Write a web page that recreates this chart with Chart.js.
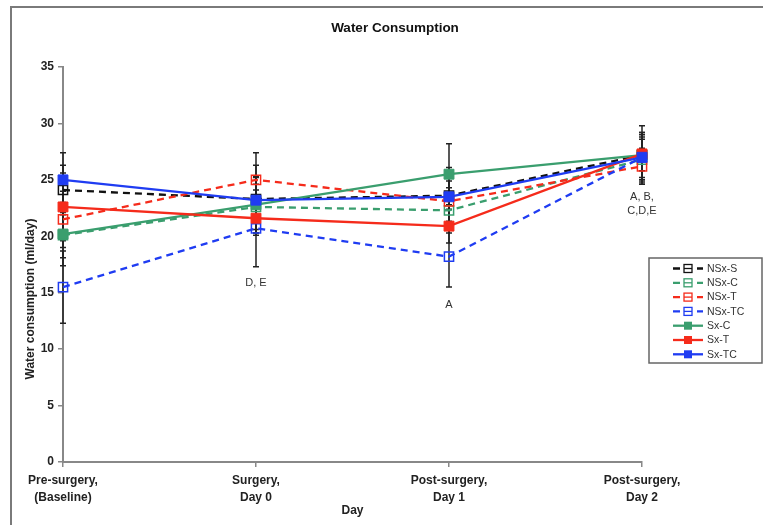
<!DOCTYPE html>
<html>
<head>
<meta charset="utf-8">
<script src="https://cdn.jsdelivr.net/npm/chart.js@4.4.1/dist/chart.umd.min.js"></script>
<style>
  html, body { margin: 0; padding: 0; background: #fff; }
  #wrap { width: 763px; height: 525px; position: relative; }
</style>
</head>
<body>
<div id="wrap"><canvas id="chart"></canvas></div>
<script>
// Categorías del eje X (días)
const days = [
    ['Pre-surgery,', '(Baseline)'],
    ['Surgery,', 'Day 0'],
    ['Post-surgery,', 'Day 1'],
    ['Post-surgery,', 'Day 2']
];

const seriesNames = ['NSx-S', 'NSx-C', 'NSx-T', 'NSx-TC', 'Sx-C', 'Sx-T', 'Sx-TC'];

// Medias (ml/day)
const nsxS  = [24.1, 23.3, 23.6, 27.2];
const nsxC  = [20.1, 22.6, 22.3, 26.8];
const nsxT  = [21.5, 25.0, 23.1, 26.2];
const nsxTC = [15.5, 20.7, 18.2, 27.0];
const sxC   = [20.2, 22.8, 25.5, 27.2];
const sxT   = [22.6, 21.6, 20.9, 27.3];
const sxTC  = [25.0, 23.2, 23.5, 27.0];

// Barras de error (+/-)
const errNsxS  = [2.2, 3.0, 2.5, 2.0];
const errNsxC  = [2.0, 2.0, 2.0, 1.8];
const errNsxT  = [2.5, 2.4, 1.8, 1.6];
const errNsxTC = [3.2, 3.4, 2.7, 2.2];
const errSxC   = [2.8, 2.5, 2.7, 2.6];
const errSxT   = [3.0, 1.5, 1.5, 1.5];
const errSxTC  = [2.4, 2.0, 2.2, 2.0];

const yTicks = [0, 5, 10, 15, 20, 25, 30, 35];

// Anotaciones de significancia: [índice de día, valor y, texto]
const notes = [
    [1, 15.9, 'D, E'],
    [2, 13.9, 'A'],
    [3, 23.5, 'A, B,'],
    [3, 22.2, 'C,D,E']
];

const colores = {
    negro: '#111111',
    verde: '#3a9e6e',
    rojo: '#f52b1b',
    azul: '#1f3cf2'
};

const valores = [nsxS, nsxC, nsxT, nsxTC, sxC, sxT, sxTC];
const errores = [errNsxS, errNsxC, errNsxT, errNsxTC, errSxC, errSxT, errSxTC];
const colorSerie = [colores.negro, colores.verde, colores.rojo, colores.azul, colores.verde, colores.rojo, colores.azul];
const ordenDibujo = [6, 5, 4, 3, 2, 1, 0];

const fuente = "'Liberation Sans', Arial, sans-serif";

const datasets = seriesNames.map((name, i) => {
    const hueco = name.startsWith('NSx');
    return {
        label: name,
        data: valores[i],
        errors: errores[i],
        borderColor: colorSerie[i],
        backgroundColor: colorSerie[i],
        borderWidth: 2.3,
        borderDash: hueco ? [7, 5] : [],
        pointStyle: 'rect',
        pointRadius: hueco ? 6.5 : 7,
        pointBorderWidth: hueco ? 1.5 : 1,
        pointBackgroundColor: hueco ? 'rgba(255,255,255,0)' : colorSerie[i],
        pointBorderColor: colorSerie[i],
        tension: 0,
        clip: false,
        order: ordenDibujo[i]
    };
});

// Barras de error detrás de las líneas
const errorBars = {
    id: 'errorBars',
    beforeDatasetsDraw(chart) {
        const ctx = chart.ctx;
        const x = chart.scales.x, y = chart.scales.y;
        ctx.save();
        ctx.strokeStyle = '#222';
        ctx.lineWidth = 1.5;
        chart.data.datasets.forEach(ds => {
            ds.data.forEach((v, j) => {
                const e = ds.errors[j];
                const px = x.getPixelForValue(j);
                const top = y.getPixelForValue(v + e);
                const bot = y.getPixelForValue(v - e);
                ctx.beginPath();
                ctx.moveTo(px, top); ctx.lineTo(px, bot);
                ctx.moveTo(px - 3, top); ctx.lineTo(px + 3, top);
                ctx.moveTo(px - 3, bot); ctx.lineTo(px + 3, bot);
                ctx.stroke();
            });
        });
        ctx.restore();
    }
};

// Marco, títulos, anotaciones y leyenda
const extras = {
    id: 'extras',
    afterDraw(chart) {
        const ctx = chart.ctx;
        const x = chart.scales.x, y = chart.scales.y;
        ctx.save();

        // marco gris
        ctx.strokeStyle = '#7a7a7a';
        ctx.lineWidth = 2;
        ctx.beginPath();
        ctx.moveTo(11, 525); ctx.lineTo(11, 7); ctx.lineTo(763, 7);
        ctx.stroke();

        // título
        ctx.fillStyle = '#111';
        ctx.font = 'bold 13.5px ' + fuente;
        ctx.textAlign = 'center';
        ctx.textBaseline = 'middle';
        ctx.fillText('Water Consumption', 395, 28);

        // título eje Y (desplazado hacia abajo como en el original)
        ctx.save();
        ctx.translate(31, 299);
        ctx.rotate(-Math.PI / 2);
        ctx.font = 'bold 12px ' + fuente;
        ctx.fillStyle = '#222';
        ctx.fillText('Water consumption (ml/day)', 0, 0);
        ctx.restore();

        // anotaciones
        ctx.font = '11px ' + fuente;
        ctx.fillStyle = '#333';
        notes.forEach(n => {
            ctx.fillText(n[2], x.getPixelForValue(n[0]), y.getPixelForValue(n[1]));
        });

        // leyenda
        const lx = 649, ly = 258, lw = 113, lh = 105;
        ctx.strokeStyle = '#666';
        ctx.lineWidth = 1.5;
        ctx.strokeRect(lx, ly, lw, lh);
        ctx.textAlign = 'left';
        ctx.font = '10.5px ' + fuente;
        chart.data.datasets.forEach((ds, i) => {
            const cy = ly + 10.5 + i * 14.3;
            ctx.strokeStyle = ds.borderColor;
            ctx.lineWidth = 2.3;
            ctx.setLineDash(ds.borderDash);
            ctx.beginPath();
            ctx.moveTo(673, cy); ctx.lineTo(703, cy);
            ctx.stroke();
            ctx.setLineDash([]);
            const s = 4;
            if (ds.label.startsWith('NSx')) {
                ctx.fillStyle = '#fff';
                ctx.fillRect(688 - s, cy - s, 2 * s, 2 * s);
                ctx.lineWidth = 1.3;
                ctx.strokeRect(688 - s, cy - s, 2 * s, 2 * s);
                ctx.beginPath();
                ctx.moveTo(688 - s, cy); ctx.lineTo(688 + s, cy);
                ctx.stroke();
            } else {
                ctx.fillStyle = ds.borderColor;
                ctx.fillRect(688 - s, cy - s, 2 * s, 2 * s);
            }
            ctx.fillStyle = '#333';
            ctx.fillText(ds.label, 707, cy + 0.5);
        });
        ctx.restore();
    }
};

Chart.defaults.font.family = fuente;

new Chart(document.getElementById('chart'), {
    type: 'line',
    data: { labels: days, datasets: datasets },
    options: {
        responsive: true,
        maintainAspectRatio: false,
        animation: false,
        layout: { padding: { left: 20, top: 67, right: 121, bottom: 0 } },
        plugins: {
            legend: { display: false },
            title: { display: false },
            tooltip: { enabled: false }
        },
        scales: {
            x: {
                offset: false,
                grid: { drawOnChartArea: false, drawTicks: true, tickLength: 5, color: '#888', lineWidth: 1.5 },
                border: { color: '#888', width: 2 },
                ticks: { color: '#222', font: { size: 12, weight: 'bold', lineHeight: 1.4 }, padding: 5.5, maxRotation: 0, autoSkip: false },
                title: { display: true, text: 'Day', color: '#222', font: { size: 12, weight: 'bold' }, padding: { top: 2, bottom: 7 } },
                afterFit(scale) { scale.height = 63; }
            },
            y: {
                min: 0,
                max: 35,
                afterBuildTicks(scale) { scale.ticks = yTicks.map(v => ({ value: v })); },
                grid: { drawOnChartArea: false, drawTicks: true, tickLength: 5, color: '#888', lineWidth: 1.5 },
                border: { color: '#888', width: 2 },
                ticks: { color: '#222', font: { size: 12, weight: 'bold' }, padding: 4 },
                afterFit(scale) { scale.width = 43; }
            }
        }
    },
    plugins: [errorBars, extras]
});
</script>
</body>
</html>
